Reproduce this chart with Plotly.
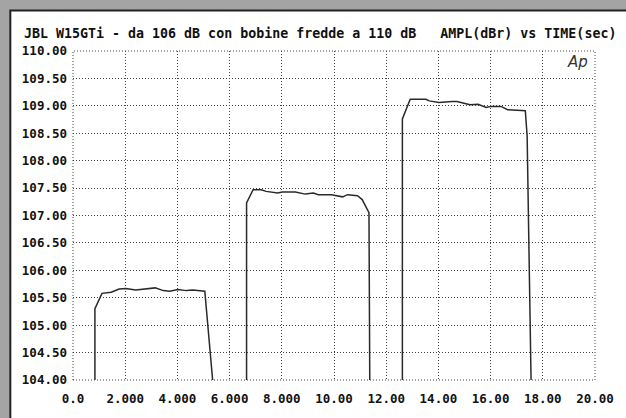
import plotly.graph_objects as go

# ---- data ----
seg1_t = [0.84, 0.84, 1.11, 1.46, 1.77, 2.02, 2.40, 2.84, 3.15, 3.46, 3.71, 4.02, 4.34, 4.59, 5.05, 5.35]
seg1_db = [104.0, 105.30, 105.58, 105.60, 105.66, 105.67, 105.64, 105.66, 105.68, 105.63, 105.62, 105.65, 105.63, 105.64, 105.62, 104.0]

seg2_t = [6.65, 6.65, 6.90, 7.21, 7.40, 7.84, 8.02, 8.52, 8.90, 9.21, 9.40, 9.90, 10.33, 10.52, 10.90, 11.08, 11.34, 11.37]
seg2_db = [104.0, 107.23, 107.47, 107.47, 107.44, 107.41, 107.43, 107.43, 107.39, 107.41, 107.38, 107.38, 107.34, 107.38, 107.36, 107.29, 107.05, 104.0]

seg3_t = [12.62, 12.62, 12.92, 13.52, 13.65, 14.02, 14.52, 14.71, 15.21, 15.52, 15.83, 16.02, 16.40, 16.65, 17.02, 17.33, 17.40, 17.55]
seg3_db = [104.0, 108.76, 109.12, 109.12, 109.09, 109.06, 109.08, 109.08, 109.02, 109.03, 108.97, 108.99, 108.99, 108.93, 108.92, 108.91, 108.45, 104.0]

x_ticks = [0, 2, 4, 6, 8, 10, 12, 14, 16, 18, 20]
x_labels = ["0.0", "2.000", "4.000", "6.000", "8.000", "10.00", "12.00", "14.00", "16.00", "18.00", "20.00"]
y_ticks = [104.0, 104.5, 105.0, 105.5, 106.0, 106.5, 107.0, 107.5, 108.0, 108.5, 109.0, 109.5, 110.0]
y_labels = ["%.2f" % v for v in y_ticks]

title_text = "JBL W15GTi - da 106 dB con bobine fredde a 110 dB   AMPL(dBr) vs TIME(sec)"

# ---- layout constants ----
W, H = 626, 418
ML, MR, MT, MB = 73, 20, 51, 33
PW, PH = W - ML - MR, H - MT - MB


def px2paper_x(px):
    return (px - ML) / PW


def py2paper_y(py):
    return (H - MB - py) / PH


xs = seg1_t + [None] + seg2_t + [None] + seg3_t
ys = seg1_db + [None] + seg2_db + [None] + seg3_db

fig = go.Figure()
fig.add_trace(go.Scatter(x=xs, y=ys, mode="lines",
                         line=dict(color="#2a2a2a", width=1.5),
                         connectgaps=False, hoverinfo="skip"))

font_mono = "DejaVu Sans Mono"
grid = dict(showgrid=True, gridcolor="#444444", gridwidth=1, griddash="1px,2px",
            zeroline=False, showline=False)

fig.update_xaxes(range=[0, 20], tickvals=x_ticks,
                 ticktext=["<b>" + t + "</b>" for t in x_labels],
                 ticks="", ticklabelstandoff=9,
                 tickfont=dict(family=font_mono, size=12.5, color="#111"), **grid)
fig.update_yaxes(range=[104, 110], tickvals=y_ticks,
                 ticktext=["<b>" + t + "</b>" for t in y_labels],
                 ticks="", ticklabelstandoff=5,
                 tickfont=dict(family=font_mono, size=12.5, color="#111"), **grid)

shapes = [
    # white page with dark frame on left / top
    dict(type="rect", xref="paper", yref="paper", layer="below",
         x0=px2paper_x(9), x1=px2paper_x(640), y0=py2paper_y(430), y1=py2paper_y(10),
         fillcolor="white", line=dict(color="#222", width=2)),
    # dotted plot border
    dict(type="rect", xref="paper", yref="paper", layer="above",
         x0=0, x1=1, y0=0, y1=1,
         line=dict(color="#444444", width=1, dash="1px,2px")),
]

fig.update_layout(
    width=W, height=H,
    margin=dict(l=ML, r=MR, t=MT, b=MB),
    paper_bgcolor="#a4a4a4",
    plot_bgcolor="white",
    showlegend=False,
    shapes=shapes,
    annotations=[
        dict(text="<b>" + title_text + "</b>", xref="paper", yref="paper",
             x=px2paper_x(21), y=py2paper_y(33), xanchor="left", yanchor="middle",
             showarrow=False, font=dict(family=font_mono, size=13.3, color="#111")),
        dict(text="<i>Ap</i>", xref="paper", yref="paper",
             x=px2paper_x(588), y=py2paper_y(62), xanchor="center", yanchor="middle",
             showarrow=False, font=dict(family="DejaVu Sans", size=15, color="#333")),
    ],
)

fig.write_html("out.html")
